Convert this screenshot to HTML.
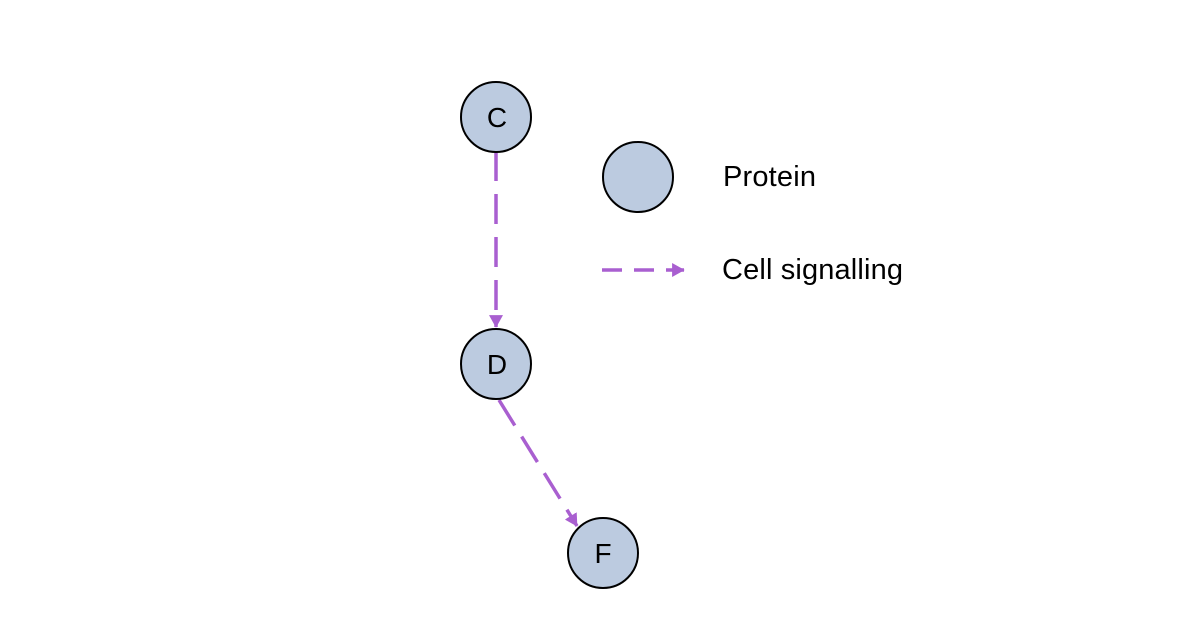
<!DOCTYPE html>
<html><head><meta charset="utf-8"><style>
html,body{margin:0;padding:0;background:#fff;}
svg{display:block;font-family:"Liberation Sans",sans-serif;}
</style></head><body>
<svg width="1204" height="637" viewBox="0 0 1204 637">
<defs>
<marker id="ah" markerWidth="4" markerHeight="4" refX="3.4" refY="2" orient="auto" markerUnits="strokeWidth">
<path d="M0,0 L3.6,2 L0,4 z" fill="#a95fd0"/>
</marker>
</defs>
<g stroke="#a95fd0" stroke-width="3.5" stroke-dasharray="30,13" fill="none">
<line x1="496" y1="151" x2="496" y2="327" marker-end="url(#ah)"/>
<line x1="499" y1="400" x2="577" y2="526" marker-end="url(#ah)"/>
<line x1="602" y1="270" x2="684" y2="270" stroke-dasharray="20,12" marker-end="url(#ah)"/>
</g>
<g fill="#bccbe0" stroke="#000" stroke-width="2">
<circle cx="496" cy="117" r="35"/>
<circle cx="496" cy="364" r="35"/>
<circle cx="603" cy="553" r="35"/>
<circle cx="638" cy="177" r="35"/>
</g>
<g font-size="28" text-anchor="middle" fill="#000">
<text x="497" y="127">C</text>
<text x="497" y="374">D</text>
<text x="603" y="563">F</text>
</g>
<g font-size="29" fill="#000">
<text x="723" y="186" textLength="93">Protein</text>
<text x="722" y="279" textLength="181">Cell signalling</text>
</g>
</svg>
</body></html>
